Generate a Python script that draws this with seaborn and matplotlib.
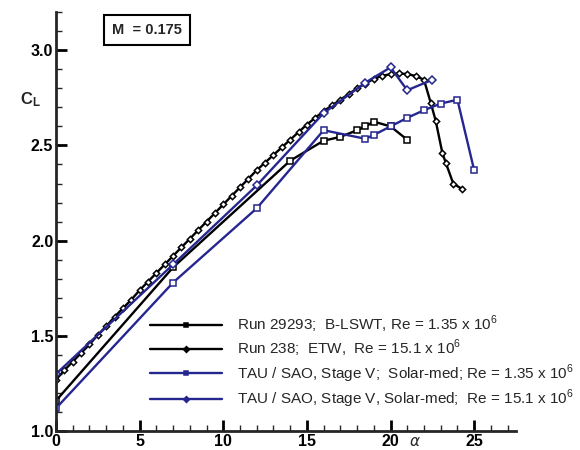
'''
Lift curve CL(alpha) for M = 0.175: wind tunnel runs vs TAU / SAO computations.
'''

import pandas as pd
import seaborn as sns
import matplotlib.pyplot as plt
from matplotlib.ticker import MultipleLocator

###### data ###############################################################
# Run 29293, B-LSWT, Re = 1.35e6 (black squares)
alpha_lswt = [0, 7, 14, 16, 17, 18, 18.5, 19, 20, 21]
cl_lswt = [1.16, 1.86, 2.42, 2.525, 2.545, 2.58, 2.60, 2.625, 2.60, 2.53]

# Run 238, ETW, Re = 15.1e6 (black diamonds, dense polar)
alpha_etw = [0, 0.5, 1.0, 1.5, 2.0, 2.5, 3.0, 3.5, 4.0, 4.5, 5.0, 5.5, 6.0, 6.5,
             7.0, 7.5, 8.0, 8.5, 9.0, 9.5, 10.0, 10.5, 11.0, 11.5, 12.0, 12.5,
             13.0, 13.5, 14.0, 14.5, 15.0, 15.5, 16.0, 16.5, 17.0, 17.5, 18.0,
             18.5, 19.0, 19.5, 20.0, 20.5, 21.0, 21.5, 22.0, 22.4, 22.7, 23.1,
             23.3, 23.75, 24.3]
cl_etw = [1.27, 1.32, 1.365, 1.41, 1.455, 1.505, 1.55, 1.60, 1.645, 1.69, 1.74,
          1.785, 1.83, 1.875, 1.92, 1.965, 2.01, 2.055, 2.10, 2.145, 2.19, 2.235,
          2.28, 2.325, 2.37, 2.41, 2.45, 2.49, 2.53, 2.57, 2.61, 2.645, 2.68,
          2.71, 2.74, 2.77, 2.80, 2.825, 2.85, 2.865, 2.875, 2.878, 2.875, 2.865,
          2.845, 2.725, 2.63, 2.46, 2.41, 2.30, 2.27]

# TAU / SAO, Re = 1.35e6 (blue squares)
alpha_tau_lo = [0, 7, 12, 16, 18.5, 19, 20, 21, 22, 23, 24, 25]
cl_tau_lo = [1.12, 1.78, 2.17, 2.58, 2.535, 2.555, 2.60, 2.645, 2.685, 2.72, 2.74, 2.37]

# TAU / SAO, Re = 15.1e6 (blue diamonds)
alpha_tau_hi = [0, 7, 12, 16, 18.5, 20, 21, 22.5]
cl_tau_hi = [1.30, 1.875, 2.29, 2.67, 2.83, 2.91, 2.79, 2.845]

labels = [r"Run 29293;  B-LSWT, Re = 1.35 x 10$^6$",
          r"Run 238;  ETW,  Re = 15.1 x 10$^6$",
          r"TAU / SAO, Stage V;  Solar-med; Re = 1.35 x 10$^6$",
          r"TAU / SAO, Stage V, Solar-med;  Re = 15.1 x 10$^6$"]
###########################################################################

BLUE = "#262690"


def main():
    sns.set_style("ticks")
    plt.rcParams['font.family'] = ['Liberation Sans', 'DejaVu Sans']
    plt.rcParams['mathtext.fontset'] = 'custom'
    plt.rcParams['mathtext.rm'] = 'Liberation Sans'
    plt.rcParams['mathtext.bf'] = 'Liberation Sans:bold'

    fig = plt.figure(figsize=(5.8, 4.5), dpi=100)
    ax = fig.add_axes([0.0966, 0.042, 0.793, 0.931])

    series = [
        (alpha_lswt, cl_lswt, "black", "s", 4.0),
        (alpha_etw, cl_etw, "black", "D", 3.2),
        (alpha_tau_lo, cl_tau_lo, BLUE, "s", 4.0),
        (alpha_tau_hi, cl_tau_hi, BLUE, "D", 4.0),
    ]
    for (a, c, col, mk, ms), lab in zip(series, labels):
        df = pd.DataFrame({"alpha": a, "CL": c})
        sns.lineplot(data=df, x="alpha", y="CL", sort=False, estimator=None,
                     color=col, lw=1.7, marker=mk, markersize=ms,
                     markerfacecolor="white", markeredgecolor=col,
                     markeredgewidth=1.1, label=lab, ax=ax)

    ax.set_xlim(0, 27.5)
    ax.set_ylim(1.0, 3.2)
    ax.xaxis.set_major_locator(MultipleLocator(5))
    ax.xaxis.set_minor_locator(MultipleLocator(1))
    ax.yaxis.set_major_locator(MultipleLocator(0.5))
    ax.yaxis.set_minor_locator(MultipleLocator(0.1))
    ax.set_xticks([0, 5, 10, 15, 20, 25])
    ax.set_yticks([1.0, 1.5, 2.0, 2.5, 3.0])
    ax.set_yticklabels(["1.0", "1.5", "2.0", "2.5", "3.0"])
    ax.set_xlabel("")
    ax.set_ylabel("")

    sns.despine(ax=ax)
    for s in ("left", "bottom"):
        ax.spines[s].set_linewidth(2)
    ax.tick_params(which="major", direction="in", length=8, width=2,
                   labelsize=11.5, pad=2, colors="k")
    ax.tick_params(which="minor", direction="in", length=4, width=1)
    for t in ax.get_xticklabels() + ax.get_yticklabels():
        t.set_fontweight("bold")

    leg = ax.legend(loc="lower left", bbox_to_anchor=(0.204, 0.05), frameon=False,
                    fontsize=11, handlelength=4.7, handletextpad=1.0,
                    labelspacing=0.2, borderpad=0, borderaxespad=0)
    # small filled markers in the legend, like the original
    for h in leg.legend_handles:
        h.set_markersize(3)
        h.set_markerfacecolor(h.get_color())

    # Mach number box
    ax.text(0.198, 0.957, "M  = 0.175", transform=ax.transAxes, ha="center",
            va="center", fontsize=10.5, fontweight="bold",
            bbox=dict(boxstyle="square,pad=0.55", fc="white", ec="black", lw=1.5))

    fig.text(30 / 580, 1 - 100 / 450, r"$\mathbf{C_L}$", fontsize=12,
             ha="center", va="center")
    fig.text(415 / 580, 1 - 441 / 450, r"$\alpha$", fontsize=11,
             ha="center", va="center", family="DejaVu Sans")

    fig.savefig("out.png", dpi=100)


if __name__ == '__main__':
    main()
